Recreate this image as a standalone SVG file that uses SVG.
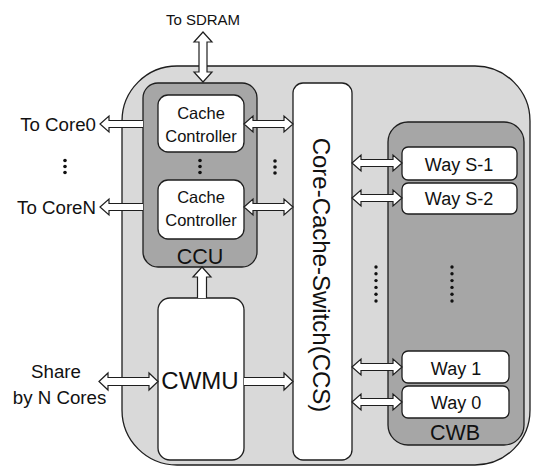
<svg xmlns="http://www.w3.org/2000/svg" width="533" height="467" viewBox="0 0 533 467">
<defs>
<style>
.box{stroke:#1e1e1e;stroke-width:1.3}
.outer{fill:#d9d9d9}
.dark{fill:#a6a6a6}
.white{fill:#ffffff}
.arr{fill:#ffffff;stroke:#1e1e1e;stroke-width:1.2;stroke-linejoin:miter}
text{font-family:"Liberation Sans",Arial,sans-serif;fill:#111}
.lbl{font-size:18.7px}
.cc{font-size:16.5px;text-anchor:middle}
.way{font-size:18px;text-anchor:middle}
.big{font-size:21.5px;text-anchor:middle}
.dot{fill:#111}
</style>
</defs>
<rect width="533" height="467" fill="#ffffff"/>
<g id="system">
<rect class="box outer" x="122" y="66" width="408" height="399" rx="55" ry="55"/>
</g>
<g id="ccu">
<rect class="box dark" x="143" y="83" width="114" height="184" rx="15" ry="15"/>
<text class="big" x="200" y="264">CCU</text>
</g>
<g id="cache-controller-0">
<rect class="box white" x="158" y="95" width="86" height="57" rx="10" ry="10"/>
<text class="cc" x="201" y="119">Cache</text>
<text class="cc" x="201" y="142">Controller</text>
</g>
<g id="cache-controller-n">
<rect class="box white" x="158" y="180" width="86" height="59" rx="10" ry="10"/>
<text class="cc" x="201" y="203">Cache</text>
<text class="cc" x="201" y="226">Controller</text>
</g>
<g id="cwmu">
<rect class="box white" x="158" y="298" width="86" height="162" rx="12" ry="12"/>
<text x="200" y="389" style="font-size:24px;text-anchor:middle">CWMU</text>
</g>
<g id="ccs">
<rect class="box white" x="293" y="83" width="59" height="377" rx="10" ry="10"/>
<text x="313" y="275" transform="rotate(90 313 275)" style="font-size:24px;text-anchor:middle">Core-Cache-Switch(CCS)</text>
</g>
<g id="cwb">
<rect class="box dark" x="388" y="122" width="136" height="323" rx="20" ry="20"/>
<text class="big" x="455" y="440">CWB</text>
</g>
<g id="way-s-1">
<rect class="box white" x="402" y="147" width="115" height="33" rx="6" ry="6"/>
<text class="way" x="459" y="171">Way S-1</text>
</g>
<g id="way-s-2">
<rect class="box white" x="402" y="183" width="115" height="31" rx="6" ry="6"/>
<text class="way" x="459" y="205">Way S-2</text>
</g>
<g id="way-1">
<rect class="box white" x="402" y="351" width="107" height="32" rx="6" ry="6"/>
<text class="way" x="456" y="375">Way 1</text>
</g>
<g id="way-0">
<rect class="box white" x="402" y="386" width="107" height="32" rx="6" ry="6"/>
<text class="way" x="456" y="409">Way 0</text>
</g>
<g id="labels">
<text x="203" y="25" style="font-size:15px;text-anchor:middle">To SDRAM</text>
<text class="lbl" x="96" y="131" text-anchor="end">To Core0</text>
<text class="lbl" x="96" y="214" text-anchor="end">To CoreN</text>
<text class="lbl" x="56" y="378" text-anchor="middle">Share</text>
<text class="lbl" x="59.5" y="404" text-anchor="middle">by N Cores</text>
</g>
<g id="connectors">
<path class="arr" d="M203,32 L212,42 L207,42 L207,72 L212,72 L203,82 L194,72 L199,72 L199,42 L194,42 Z"/>
<path class="arr" d="M143,120.5 L109,120.5 L109,116 L100,124 L109,132 L109,127.5 L143,127.5"/>
<path class="arr" d="M143,203.5 L109,203.5 L109,199 L100,207 L109,215 L109,210.5 L143,210.5"/>
<path class="arr" d="M244,124 L253,116 L253,120.5 L284,120.5 L284,116 L293,124 L284,132 L284,127.5 L253,127.5 L253,132 Z"/>
<path class="arr" d="M244,207 L253,199 L253,203.5 L284,203.5 L284,199 L293,207 L284,215 L284,210.5 L253,210.5 L253,215 Z"/>
<path class="arr" d="M197.5,298 L197.5,277 L193,277 L202,267 L211,277 L206.5,277 L206.5,298"/>
<path class="arr" d="M244,377.5 L284,377.5 L284,373 L293,381.5 L284,390 L284,385.5 L244,385.5"/>
<path class="arr" d="M99,381.5 L108,373 L108,377.5 L149,377.5 L149,373 L158,381.5 L149,390 L149,385.5 L108,385.5 L108,390 Z"/>
<path class="arr" d="M352,163 L361,155 L361,159.5 L393,159.5 L393,155 L402,163 L393,171 L393,166.5 L361,166.5 L361,171 Z"/>
<path class="arr" d="M352,198 L361,190 L361,194.5 L393,194.5 L393,190 L402,198 L393,206 L393,201.5 L361,201.5 L361,206 Z"/>
<path class="arr" d="M352,367 L361,359 L361,363.5 L393,363.5 L393,359 L402,367 L393,375 L393,370.5 L361,370.5 L361,375 Z"/>
<path class="arr" d="M352,402 L361,394 L361,398.5 L393,398.5 L393,394 L402,402 L393,410 L393,405.5 L361,405.5 L361,410 Z"/>
</g>
<g id="ellipses">
<circle class="dot" cx="65" cy="160.5" r="1.8"/>
<circle class="dot" cx="65" cy="166.5" r="1.8"/>
<circle class="dot" cx="65" cy="172.5" r="1.8"/>
<circle class="dot" cx="200" cy="160.5" r="1.8"/>
<circle class="dot" cx="200" cy="166.5" r="1.8"/>
<circle class="dot" cx="200" cy="172.5" r="1.8"/>
<circle class="dot" cx="275" cy="161" r="1.8"/>
<circle class="dot" cx="275" cy="167" r="1.8"/>
<circle class="dot" cx="275" cy="173" r="1.8"/>
<circle class="dot" cx="376" cy="267" r="1.7"/>
<circle class="dot" cx="376" cy="273.8" r="1.7"/>
<circle class="dot" cx="376" cy="280.6" r="1.7"/>
<circle class="dot" cx="376" cy="287.4" r="1.7"/>
<circle class="dot" cx="376" cy="294.2" r="1.7"/>
<circle class="dot" cx="376" cy="301" r="1.7"/>
<circle class="dot" cx="452" cy="267" r="1.7"/>
<circle class="dot" cx="452" cy="273.8" r="1.7"/>
<circle class="dot" cx="452" cy="280.6" r="1.7"/>
<circle class="dot" cx="452" cy="287.4" r="1.7"/>
<circle class="dot" cx="452" cy="294.2" r="1.7"/>
<circle class="dot" cx="452" cy="301" r="1.7"/>
</g>
</svg>
